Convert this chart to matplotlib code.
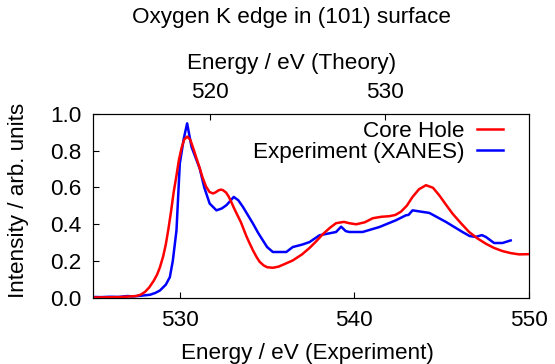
import matplotlib
matplotlib.use('Agg')
import matplotlib.pyplot as plt

plt.rcParams['font.family'] = ['Liberation Sans', 'DejaVu Sans']
fs = 16.2

# theory energy shift between the two x axes (eV)
shift = 11.75

# Core Hole (theory), energies in theory scale
core_e = [513.25, 514.75, 515.75, 516.0, 516.25, 516.5, 516.75, 516.95, 517.11,
          517.3, 517.45, 517.6, 517.75, 517.9, 518.06, 518.2, 518.35, 518.5,
          518.67, 518.85, 519.05, 519.2, 519.39, 519.55, 519.75, 519.95, 520.15,
          520.3, 520.45, 520.6, 520.72, 520.9, 521.05, 521.2, 521.39, 521.75,
          522.06, 522.25, 522.45, 522.65, 522.82, 523.05, 523.25, 523.58, 523.9,
          524.15, 524.72, 525.25, 525.68, 526.05, 526.44, 526.85, 527.2, 527.65,
          527.95, 528.35, 528.85, 529.3, 529.8, 530.25, 530.6, 530.92, 531.25,
          531.58, 531.95, 532.35, 532.75, 533.11, 533.5, 533.87, 534.35, 534.82,
          535.3, 535.78, 536.25, 536.73, 537.2, 537.68, 538.19]
core_i = [0.0, 0.002, 0.008, 0.015, 0.03, 0.055, 0.09, 0.125, 0.164,
          0.225, 0.29, 0.375, 0.47, 0.575, 0.665, 0.75, 0.815, 0.86,
          0.877, 0.86, 0.805, 0.76, 0.705, 0.655, 0.605, 0.575, 0.567,
          0.573, 0.583, 0.588, 0.585, 0.572, 0.55, 0.52, 0.48, 0.41,
          0.335, 0.295, 0.255, 0.22, 0.195, 0.175, 0.165, 0.162, 0.168,
          0.178, 0.202, 0.235, 0.27, 0.305, 0.345, 0.38, 0.405, 0.412,
          0.405, 0.399, 0.41, 0.432, 0.44, 0.443, 0.45, 0.468, 0.5,
          0.548, 0.59, 0.612, 0.598, 0.557, 0.505, 0.457, 0.405, 0.357,
          0.322, 0.293, 0.27, 0.253, 0.242, 0.235, 0.236]

# Experiment (XANES)
exp_e = [525.0, 525.5, 526.0, 526.5, 527.0, 527.3, 527.8, 528.3, 528.6, 528.86,
         529.2, 529.43, 529.6, 529.81, 530.0, 530.23, 530.42, 530.67, 531.14,
         531.4, 531.71, 532.1, 532.4, 532.67, 533.09, 533.35, 533.62, 534.19,
         534.5, 534.76, 535.0, 535.33, 536.1, 536.47, 537.0, 537.43, 538.0,
         538.95, 539.24, 539.5, 539.7, 540.47, 541.43, 542.38, 542.95, 543.1,
         543.33, 543.8, 544.29, 545.24, 546.19, 546.6, 546.95, 547.3, 547.53,
         548.0, 548.48, 548.95]
exp_i = [0.003, 0.002, 0.004, 0.003, 0.008, 0.006, 0.01, 0.015, 0.025, 0.038,
         0.07, 0.111, 0.2, 0.366, 0.73, 0.867, 0.949, 0.821, 0.703,
         0.6, 0.512, 0.475, 0.485, 0.503, 0.548, 0.53, 0.493, 0.403,
         0.35, 0.311, 0.275, 0.248, 0.248, 0.275, 0.288, 0.302, 0.339,
         0.357, 0.386, 0.362, 0.357, 0.357, 0.384, 0.421, 0.448, 0.45,
         0.475, 0.468, 0.461, 0.412, 0.357, 0.335, 0.33, 0.34, 0.33,
         0.297, 0.297, 0.311]

W, H = 555, 364
fig = plt.figure(figsize=(W / 100, H / 100), dpi=100)
ax = fig.add_axes([92.5 / W, (H - 297.5) / H, (529 - 92.5) / W, (297.5 - 114) / H])
ax2 = ax.twiny()

l_exp, = ax.plot(exp_e, exp_i, color='#0000ff', lw=1.8)
l_core, = ax2.plot(core_e, core_i, color='#ff0000', lw=1.8)

ax.set_xlim(525, 550)
ax.set_ylim(0, 1)
ax2.set_xlim(525 - shift, 550 - shift)
ax.set_xticks([530, 540, 550])
ax.set_yticks([0, 0.2, 0.4, 0.6, 0.8, 1.0])
ax.set_yticklabels(['0.0', '0.2', '0.4', '0.6', '0.8', '1.0'])
ax2.set_xticks([520, 530])

ax.tick_params(axis='x', direction='in', length=4.5, labelsize=fs, pad=9, top=False)
ax.tick_params(axis='y', direction='in', length=4.5, labelsize=fs, pad=8, right=False)
ax2.tick_params(axis='x', direction='in', length=4.5, labelsize=fs, pad=8)

fig.text(292 / W, 1 - 18 / H, 'Oxygen K edge in (101) surface', fontsize=fs,
         ha='center', va='center')
fig.text(292 / W, 1 - 63 / H, 'Energy / eV (Theory)', fontsize=fs,
         ha='center', va='center')
fig.text(307 / W, 1 - 353 / H, 'Energy / eV (Experiment)', fontsize=fs,
         ha='center', va='center')
fig.text(19 / W, 1 - 200 / H, 'Intensity / arb. units', fontsize=fs,
         ha='center', va='center', rotation=90)

ax2.legend([l_core, l_exp], ['Core Hole', 'Experiment (XANES)'],
           loc='upper right', bbox_to_anchor=(0.94, 0.963), frameon=False,
           markerfirst=False, fontsize=fs, handlelength=1.13,
           handletextpad=0.59, labelspacing=0.0, borderaxespad=0.0,
           borderpad=0.0)

fig.savefig('out.png', dpi=100)
